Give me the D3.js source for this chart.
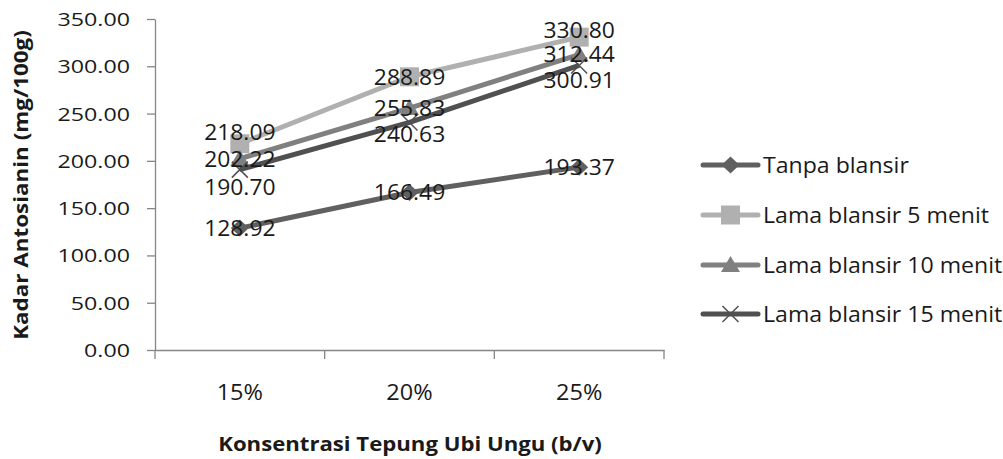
<!DOCTYPE html>
<html><head><meta charset="utf-8">
<script src="https://cdn.jsdelivr.net/npm/d3@7"></script>
<style>body{margin:0;background:#fff}svg{display:block}text{font-family:"Open Sans",sans-serif;fill:#1a1a1a}</style>
</head><body><svg id="c" width="1003" height="459"></svg>
<script>
const categories = ["15%", "20%", "25%"];
const seriesNames = ["Tanpa blansir", "Lama blansir 5 menit", "Lama blansir 10 menit", "Lama blansir 15 menit"];
const tanpaBlansir = [128.92, 166.49, 193.37];
const blansir5 = [218.09, 288.89, 330.80];
const blansir10 = [202.22, 255.83, 312.44];
const blansir15 = [190.70, 240.63, 300.91];
const yTicks = [0, 50, 100, 150, 200, 250, 300, 350];
const yTitle = "Kadar Antosianin (mg/100g)";
const xTitle = "Konsentrasi Tepung Ubi Ungu (b/v)";

const seriesValues = [tanpaBlansir, blansir5, blansir10, blansir15];
const colors = ["#606060", "#b0b0b0", "#808080", "#505050"];
const markers = ["diamond", "square", "triangle", "x"];
// label vertical offsets (px) relative to marker
const labelDy = [[0, 0, 0], [-12, 0, -7], [0, 0, 0], [17, 12, 15]];

const svg = d3.select("#c");
const L = 155, R = 664, T = 19, B = 350;
const x = d3.scaleBand().domain(categories).range([L, R]);
const y = d3.scaleLinear().domain([0, 350]).range([B, T]);
const axisColor = "#868686";

function fit(sel, target) {
  sel.each(function () {
    const w = this.getComputedTextLength();
    const t = d3.select(this).attr("data-t") || "";
    d3.select(this).attr("transform", t + ` scale(${target / w},1)`);
  });
}

// Y axis
const ya = svg.append("g").attr("transform", `translate(${L},0)`)
  .call(d3.axisLeft(y).tickValues(yTicks).tickFormat(d3.format(".2f")).tickSize(8).tickSizeOuter(0));
ya.select(".domain").attr("stroke", axisColor).attr("stroke-width", 1.3);
ya.selectAll(".tick line").attr("stroke", axisColor).attr("stroke-width", 1.3);
ya.selectAll(".tick text").attr("x", 0).attr("dy", "0.36em")
  .attr("transform", "translate(-25,0) scale(1.29,1)")
  .style("font-size", "18px").style("fill", "#1a1a1a").style("font-family", '"Open Sans",sans-serif');

// X axis
const xa = svg.append("g").attr("transform", `translate(0,${B})`)
  .call(d3.axisBottom(x).tickSize(0).tickSizeOuter(0));
xa.select(".domain").attr("stroke", axisColor).attr("stroke-width", 1.3);
const edges = [x.range()[0]].concat(categories.map(c => x(c) + x.bandwidth()));
xa.selectAll(".edge").data(edges).join("line").attr("class", "edge")
  .attr("x1", d => d).attr("x2", d => d).attr("y1", 0).attr("y2", 9)
  .attr("stroke", axisColor).attr("stroke-width", 1.3);
xa.selectAll(".tick text").attr("y", 0).attr("dy", 0)
  .attr("transform", "translate(0,50) scale(1.12,1)")
  .style("font-size", "21px").style("fill", "#1a1a1a").style("font-family", '"Open Sans",sans-serif');

// Titles
svg.append("text").attr("text-anchor", "middle").attr("data-t", "translate(410,451)")
  .style("font-size", "19px").style("font-weight", "bold").text(xTitle).call(fit, 384);
svg.append("text").attr("text-anchor", "middle").attr("data-t", "translate(28,185) rotate(-90)")
  .style("font-size", "19px").style("font-weight", "bold").text(yTitle).call(fit, 310);

function markerPath(type) {
  if (type === "diamond") return "M0,-8.5L9,0L0,8.5L-9,0Z";
  if (type === "square") return "M-9.5,-9.5H9.5V9.5H-9.5Z";
  if (type === "triangle") return "M0,-9L9.5,7H-9.5Z";
  return "M-8,-8L8,8M-8,8L8,-8";
}
function drawMarker(g, type, color, cx, cy) {
  const p = g.append("path").attr("d", markerPath(type)).attr("transform", `translate(${cx},${cy})`);
  if (type === "x") p.attr("fill", "none").attr("stroke", color).attr("stroke-width", 1.5);
  else p.attr("fill", color);
}

const line = d3.line().x((d, i) => x(categories[i]) + x.bandwidth() / 2).y(d => y(d));
const plot = svg.append("g");
seriesValues.forEach((vals, si) => {
  plot.append("path").datum(vals).attr("d", line).attr("fill", "none")
    .attr("stroke", colors[si]).attr("stroke-width", 5).attr("stroke-linejoin", "round");
  vals.forEach((v, i) => drawMarker(plot, markers[si], colors[si], x(categories[i]) + x.bandwidth() / 2, y(v)));
});
// data labels
seriesValues.forEach((vals, si) => {
  vals.forEach((v, i) => {
    const cx = x(categories[i]) + x.bandwidth() / 2, cy = y(v) + labelDy[si][i];
    svg.append("text").attr("text-anchor", "middle").attr("dy", "0.36em")
      .attr("transform", `translate(${cx},${cy}) scale(1.04,1)`)
      .style("font-size", "22px").text(d3.format(".2f")(v));
  });
});

// legend
const legY = [165, 215, 265, 314];
seriesNames.forEach((name, si) => {
  const g = svg.append("g");
  g.append("line").attr("x1", 703).attr("x2", 758).attr("y1", legY[si]).attr("y2", legY[si])
    .attr("stroke", colors[si]).attr("stroke-width", 5).attr("stroke-linecap", "round");
  drawMarker(g, markers[si], colors[si], 730.5, legY[si]);
  g.append("text").attr("dy", "0.36em").attr("transform", `translate(763,${legY[si]}) scale(1.05,1)`)
    .style("font-size", "22px").text(name);
});
</script></body></html>
